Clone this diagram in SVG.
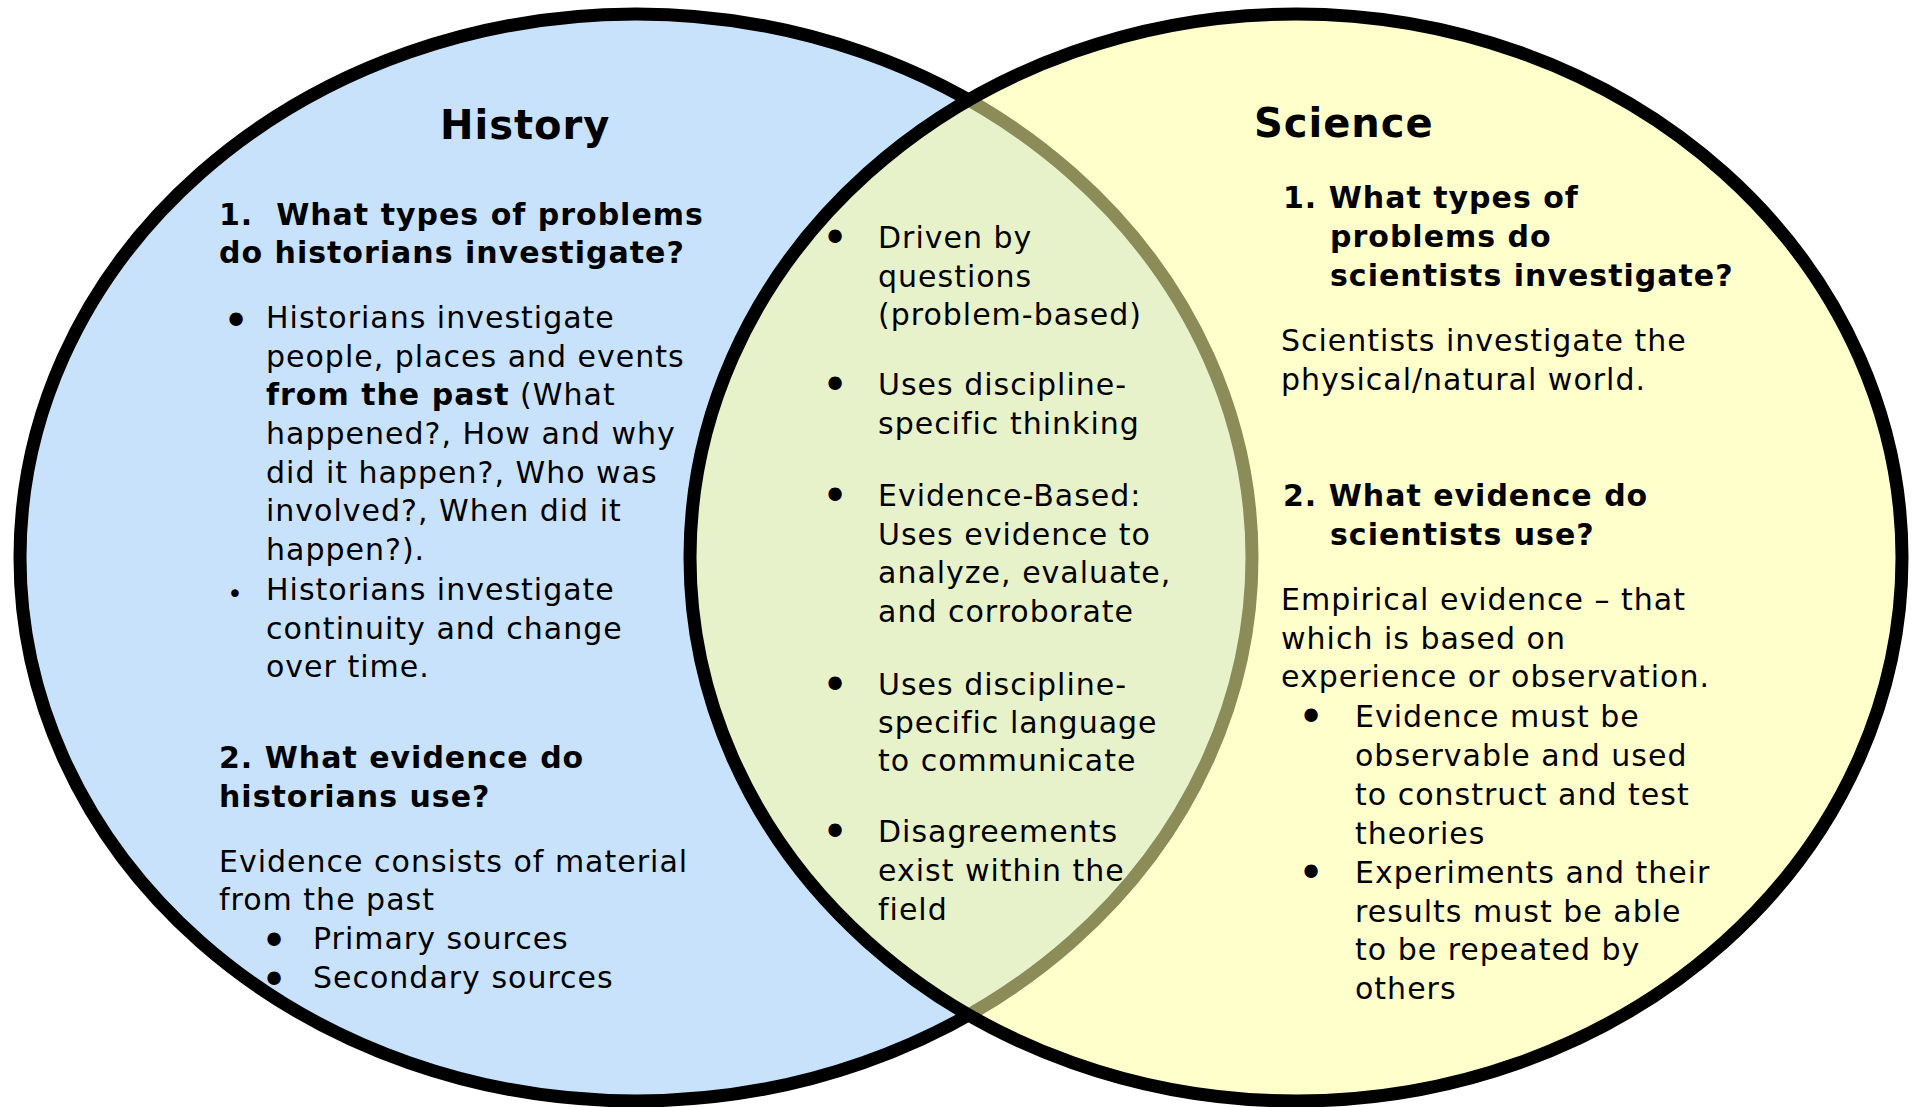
<svg xmlns="http://www.w3.org/2000/svg" width="1912" height="1107" viewBox="0 0 1912 1107">
  <style>
    .t { font-family: "DejaVu Sans", Verdana, sans-serif; font-size: 30px; fill: #000; letter-spacing: 1px; }
    .b { font-weight: bold; }
    .title { font-family: "DejaVu Sans", Verdana, sans-serif; font-size: 40px; font-weight: bold; fill: #000; letter-spacing: 1px; }
    .dot { font-family: "DejaVu Sans", sans-serif; font-size: 46px; fill: #000; text-anchor: middle; }
    .dot-s { font-family: "DejaVu Sans", sans-serif; font-size: 26px; fill: #000; text-anchor: middle; }
    .ring { stroke: #000; stroke-width: 13; }
  </style>

  <!-- circles: the science circle is translucent so the overlap mixes both fills -->
  <g id="history-circle">
    <ellipse class="ring" cx="636" cy="557.5" rx="616" ry="543.5" fill="#C9E2FC"/>
  </g>
  <g id="science-circle">
    <ellipse class="ring" cx="1296" cy="557.5" rx="606" ry="543.5" fill="rgb(255,255,160)" fill-opacity="0.55"/>
  </g>

  <!-- History side -->
  <g id="history">
    <text class="title" x="440" y="139">History</text>
    <text class="t b" x="219" y="225" xml:space="preserve">1.  What types of problems</text>
    <text class="t b" x="219" y="263">do historians investigate?</text>

    <text class="dot" x="236" y="337">•</text>
    <text class="t" x="266" y="328">Historians investigate</text>
    <text class="t" x="266" y="367">people, places and events</text>
    <text class="t" x="266" y="405"><tspan class="b">from the past</tspan> (What</text>
    <text class="t" x="266" y="444">happened?, How and why</text>
    <text class="t" x="266" y="483">did it happen?, Who was</text>
    <text class="t" x="266" y="521">involved?, When did it</text>
    <text class="t" x="266" y="560">happen?).</text>

    <text class="dot-s" x="235" y="603">•</text>
    <text class="t" x="266" y="600">Historians investigate</text>
    <text class="t" x="266" y="639">continuity and change</text>
    <text class="t" x="266" y="677">over time.</text>

    <text class="t b" x="219" y="768">2. What evidence do</text>
    <text class="t b" x="219" y="807">historians use?</text>
    <text class="t" x="219" y="872">Evidence consists of material</text>
    <text class="t" x="219" y="910">from the past</text>
    <text class="dot" x="274" y="957">•</text>
    <text class="t" x="313" y="949">Primary sources</text>
    <text class="dot" x="274" y="996">•</text>
    <text class="t" x="313" y="988">Secondary sources</text>
  </g>

  <!-- Shared traits -->
  <g id="common">
    <text class="dot" x="835" y="254">•</text>
    <text class="t" x="878" y="248">Driven by</text>
    <text class="t" x="878" y="287">questions</text>
    <text class="t" x="878" y="325">(problem-based)</text>

    <text class="dot" x="835" y="401">•</text>
    <text class="t" x="878" y="395">Uses discipline-</text>
    <text class="t" x="878" y="434">specific thinking</text>

    <text class="dot" x="835" y="512">•</text>
    <text class="t" x="878" y="506">Evidence-Based:</text>
    <text class="t" x="878" y="545">Uses evidence to</text>
    <text class="t" x="878" y="583">analyze, evaluate,</text>
    <text class="t" x="878" y="622">and corroborate</text>

    <text class="dot" x="835" y="701">•</text>
    <text class="t" x="878" y="695">Uses discipline-</text>
    <text class="t" x="878" y="733">specific language</text>
    <text class="t" x="878" y="771">to communicate</text>

    <text class="dot" x="835" y="848">•</text>
    <text class="t" x="878" y="842">Disagreements</text>
    <text class="t" x="878" y="881">exist within the</text>
    <text class="t" x="878" y="920">field</text>
  </g>

  <!-- Science side -->
  <g id="science">
    <text class="title" x="1254" y="137">Science</text>
    <text class="t b" x="1283" y="208">1. What types of</text>
    <text class="t b" x="1330" y="247">problems do</text>
    <text class="t b" x="1330" y="286">scientists investigate?</text>
    <text class="t" x="1281" y="351">Scientists investigate the</text>
    <text class="t" x="1281" y="390">physical/natural world.</text>

    <text class="t b" x="1283" y="506">2. What evidence do</text>
    <text class="t b" x="1330" y="545">scientists use?</text>
    <text class="t" x="1281" y="610">Empirical evidence – that</text>
    <text class="t" x="1281" y="649">which is based on</text>
    <text class="t" x="1281" y="687">experience or observation.</text>

    <text class="dot" x="1311" y="733">•</text>
    <text class="t" x="1355" y="727">Evidence must be</text>
    <text class="t" x="1355" y="766">observable and used</text>
    <text class="t" x="1355" y="805">to construct and test</text>
    <text class="t" x="1355" y="844">theories</text>
    <text class="dot" x="1311" y="889">•</text>
    <text class="t" x="1355" y="883">Experiments and their</text>
    <text class="t" x="1355" y="922">results must be able</text>
    <text class="t" x="1355" y="960">to be repeated by</text>
    <text class="t" x="1355" y="999">others</text>
  </g>
</svg>
